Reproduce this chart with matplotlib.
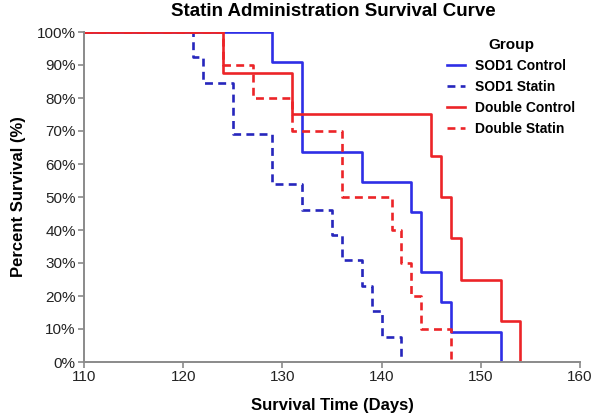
import matplotlib
matplotlib.use("Agg")
import matplotlib.pyplot as plt
import numpy as np

plt.rcParams["font.family"] = ["Liberation Sans", "DejaVu Sans"]

# Kaplan-Meier style step data (day, percent surviving after that day)
sod1_control_days = [110, 129, 132, 138, 143, 144, 146, 147, 152]
sod1_control_surv = [100, 90.9, 63.6, 54.5, 45.5, 27.3, 18.2, 9.1, 0]

sod1_statin_days = [110, 121, 122, 125, 129, 132, 135, 136, 138, 139, 140, 142]
sod1_statin_surv = [100, 92.3, 84.6, 69.2, 53.8, 46.2, 38.5, 30.8, 23.1, 15.4, 7.7, 0]

double_control_days = [110, 124, 131, 145, 146, 147, 148, 152, 154]
double_control_surv = [100, 87.5, 75, 62.5, 50, 37.5, 25, 12.5, 0]

double_statin_days = [110, 124, 127, 131, 136, 141, 142, 143, 144, 147]
double_statin_surv = [100, 90, 80, 70, 50, 40, 30, 20, 10, 0]

x_ticks = [110, 120, 130, 140, 150, 160]
y_ticks = [0, 10, 20, 30, 40, 50, 60, 70, 80, 90, 100]

blue = "#2e2ee6"
blue_dash = "#2626bc"
red = "#ec2428"
axis_gray = "#8a8a8a"

fig = plt.figure(figsize=(6, 4.2), dpi=100)
ax = fig.add_axes([84 / 600, 1 - 362 / 420, (580 - 84) / 600, (362 - 32) / 420])

lw = 1.9
dash = (3.0, 2.0)
ax.step(sod1_control_days, sod1_control_surv, where="post", color=blue, lw=lw,
        label="SOD1 Control")
ax.step(sod1_statin_days, sod1_statin_surv, where="post", color=blue_dash, lw=lw,
        dashes=dash, label="SOD1 Statin")
ax.step(double_control_days, double_control_surv, where="post", color=red, lw=lw,
        label="Double Control")
ax.step(double_statin_days, double_statin_surv, where="post", color=red, lw=lw,
        dashes=dash, label="Double Statin")

ax.set_xlim(110, 160)
ax.set_ylim(0, 100)
ax.set_xticks(x_ticks)
ax.set_yticks(y_ticks)
ax.set_yticklabels([f"{v}%" for v in y_ticks])
ax.tick_params(labelsize=11, labelcolor="#222222", color=axis_gray,
               length=4, width=1.2, pad=2)

for side in ["top", "right"]:
    ax.spines[side].set_visible(False)
for side in ["left", "bottom"]:
    ax.spines[side].set_color(axis_gray)
    ax.spines[side].set_linewidth(1.4)

ax.set_xlabel("Survival Time (Days)", fontsize=12, fontweight="bold", labelpad=10)
ax.set_ylabel("Percent Survival (%)", fontsize=12, fontweight="bold", labelpad=8)
fig.text(333 / 600, 1 - 11 / 420, "Statin Administration Survival Curve",
         ha="center", va="center", fontsize=13.5, fontweight="bold")

leg = fig.legend(title="Group", loc="upper left",
                 bbox_to_anchor=(447 / 600, 1 - 38 / 420),
                 frameon=False, fontsize=10, handlelength=1.3, handletextpad=0.7,
                 labelspacing=0.5, borderaxespad=0, borderpad=0)
leg.get_title().set_fontweight("bold")
leg.get_title().set_fontsize(11)
for t in leg.get_texts():
    t.set_fontweight("bold")

fig.savefig("out.png", dpi=100)
